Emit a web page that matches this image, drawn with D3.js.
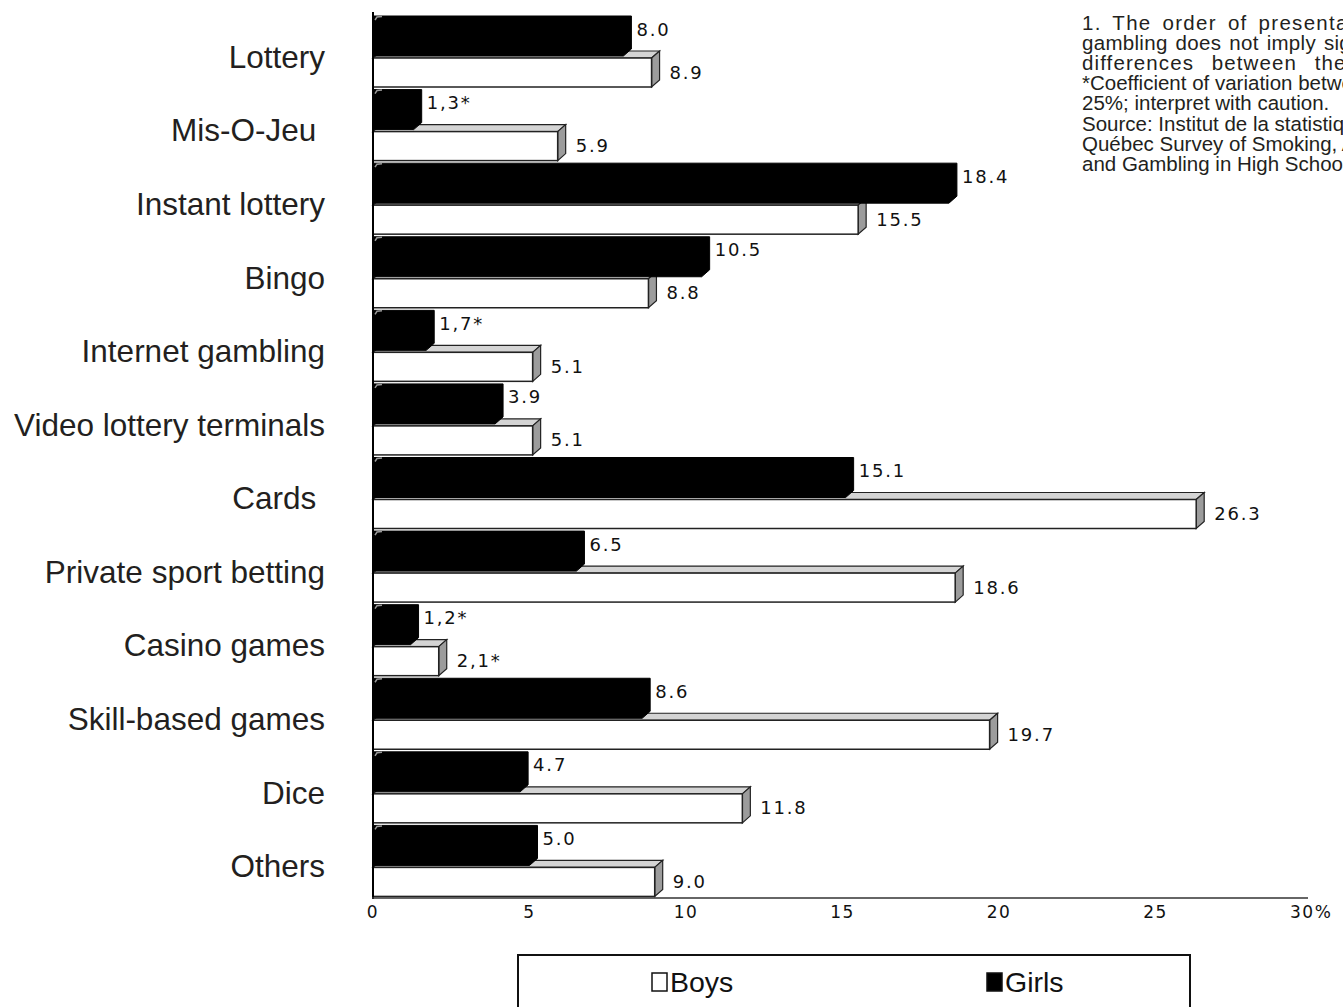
<!DOCTYPE html>
<html><head><meta charset="utf-8">
<script src="https://cdn.jsdelivr.net/npm/d3@7"></script>
<style>
body{margin:0;background:#fff;overflow:hidden;}
svg{display:block;}
</style></head>
<body>
<svg id="chart" width="1343" height="1007"></svg>
<script>
const categories = ["Lottery","Mis-O-Jeu ","Instant lottery","Bingo","Internet gambling","Video lottery terminals","Cards ","Private sport betting","Casino games","Skill-based games","Dice","Others"];
const girls = [8.0,1.3,18.4,10.5,1.7,3.9,15.1,6.5,1.2,8.6,4.7,5.0];
const girlsLabels = ["8.0","1,3*","18.4","10.5","1,7*","3.9","15.1","6.5","1,2*","8.6","4.7","5.0"];
const boys = [8.9,5.9,15.5,8.8,5.1,5.1,26.3,18.6,2.1,19.7,11.8,9.0];
const boysLabels = ["8.9","5.9","15.5","8.8","5.1","5.1","26.3","18.6","2,1*","19.7","11.8","9.0"];
const tickValues = [0,5,10,15,20,25,30];
const tickLabels = ["0","5","10","15","20","25","30%"];
const noteLines = ["1. The order of presentation of the types of","gambling does not imply significant","differences between them.","*Coefficient of variation between 15% and","25%; interpret with caution.","Source: Institut de la statistique du Québec,","Québec Survey of Smoking, Alcohol, Drug Use","and Gambling in High School Students, 2008."];
const legendItems = ["Boys","Girls"];

const svg = d3.select("#chart");
const x = d3.scaleLinear().domain([0,30]).range([373,1312]);
const y = d3.scaleBand().domain(categories).range([15,898]).padding(0);
const bw = y.bandwidth();
const dx = 8, dy = 7;
const numFont = "'DejaVu Sans', sans-serif";
const sans = "'Liberation Sans', Arial, sans-serif";

// category labels
svg.append("g").selectAll("text").data(categories).join("text")
  .attr("x", 325).attr("y", d => y(d) + bw/2 + 5)
  .attr("text-anchor","end").attr("dominant-baseline","central")
  .attr("font-family",sans).attr("font-size",31.5)
  .attr("fill","#231f20").style("white-space","pre")
  .text(d => d);

const x0 = x(0);
// boys bars (3D)
const gb = svg.append("g");
categories.forEach((c,i) => {
  const y0 = y(c), xv = x(boys[i]);
  const ft = y0 + 43, fb = y0 + 72;
  gb.append("polygon").attr("points", [[x0,ft],[x0+dx,ft-dy],[xv+dx,ft-dy],[xv,ft]].join(" "))
    .attr("fill","#d4d4d4").attr("stroke","#222").attr("stroke-width",1.2);
  gb.append("polygon").attr("points", [[xv,ft],[xv+dx,ft-dy],[xv+dx,fb-dy],[xv,fb]].join(" "))
    .attr("fill","#9c9c9c").attr("stroke","#222").attr("stroke-width",1.2);
  gb.append("rect").attr("x",x0).attr("y",ft).attr("width",xv-x0).attr("height",fb-ft)
    .attr("fill","#fff").attr("stroke","#222").attr("stroke-width",1.5);
});
// girls bars
const gg = svg.append("g");
categories.forEach((c,i) => {
  const y0 = y(c), xv = x(girls[i]);
  gg.append("polygon").attr("points", [[x0,y0+1],[xv+dx,y0+1],[xv+dx,y0+41-dy],[xv,y0+41],[x0,y0+41]].join(" "))
    .attr("fill","#000").attr("stroke","#000").attr("stroke-width",1);
  gg.append("path").attr("d", `M${x0+2},${y0+5} L${x0+4},${y0+2} L${x0+9},${y0+1.5}`)
    .attr("fill","none").attr("stroke","#999").attr("stroke-width",1.5);
});

// value labels
svg.append("g").selectAll("text").data(categories).join("text")
  .attr("x",(d,i)=>x(girls[i])+dx+5).attr("y",d=>y(d)+14)
  .attr("dominant-baseline","central").attr("font-family",numFont).attr("font-size",18)
  .attr("letter-spacing",1.8).attr("fill","#111").text((d,i)=>girlsLabels[i]);
svg.append("g").selectAll("text").data(categories).join("text")
  .attr("x",(d,i)=>x(boys[i])+dx+10).attr("y",d=>y(d)+57)
  .attr("dominant-baseline","central").attr("font-family",numFont).attr("font-size",18)
  .attr("letter-spacing",1.8).attr("fill","#111").text((d,i)=>boysLabels[i]);

// axes
svg.append("line").attr("x1",373).attr("x2",373).attr("y1",12).attr("y2",899)
  .attr("stroke","#000").attr("stroke-width",2);
svg.append("line").attr("x1",372).attr("x2",1308).attr("y1",898).attr("y2",898)
  .attr("stroke","#333").attr("stroke-width",1.5);
svg.append("g").selectAll("text").data(tickValues).join("text")
  .attr("x",(d,i)=> i===tickValues.length-1 ? x(d)-22 : x(d))
  .attr("y",912).attr("dominant-baseline","central")
  .attr("text-anchor",(d,i)=> i===tickValues.length-1 ? "start" : "middle")
  .attr("font-family",numFont).attr("font-size",17).attr("letter-spacing",1.5).attr("fill","#111")
  .text((d,i)=>tickLabels[i]);

// note
const spacing = [[1.3,4],[0.3,2],[1.1,11],[0,0],[0,0],[0,0],[0,0],[0,0]];
svg.append("g").selectAll("text").data(noteLines).join("text")
  .attr("x",1082).attr("y",(d,i)=>22+i*20.2).attr("dominant-baseline","central")
  .attr("font-family",sans).attr("font-size",20.5)
  .attr("fill","#231f20")
  .attr("letter-spacing",(d,i)=>spacing[i][0]).attr("word-spacing",(d,i)=>spacing[i][1])
  .text(d=>d);

// legend
svg.append("rect").attr("x",518).attr("y",955).attr("width",672).attr("height",70)
  .attr("fill","#fff").attr("stroke","#111").attr("stroke-width",2);
const lx = [652, 987];
legendItems.forEach((t,i)=>{
  svg.append("rect").attr("x",lx[i]).attr("y",973).attr("width",15).attr("height",18)
    .attr("fill", i===0 ? "#fff" : "#000").attr("stroke","#111").attr("stroke-width",1.5);
  svg.append("text").attr("x",lx[i]+18).attr("y",982).attr("dominant-baseline","central")
    .attr("font-family",sans).attr("font-size",28.5)
    .attr("fill","#111").text(t);
});
</script>
</body></html>
